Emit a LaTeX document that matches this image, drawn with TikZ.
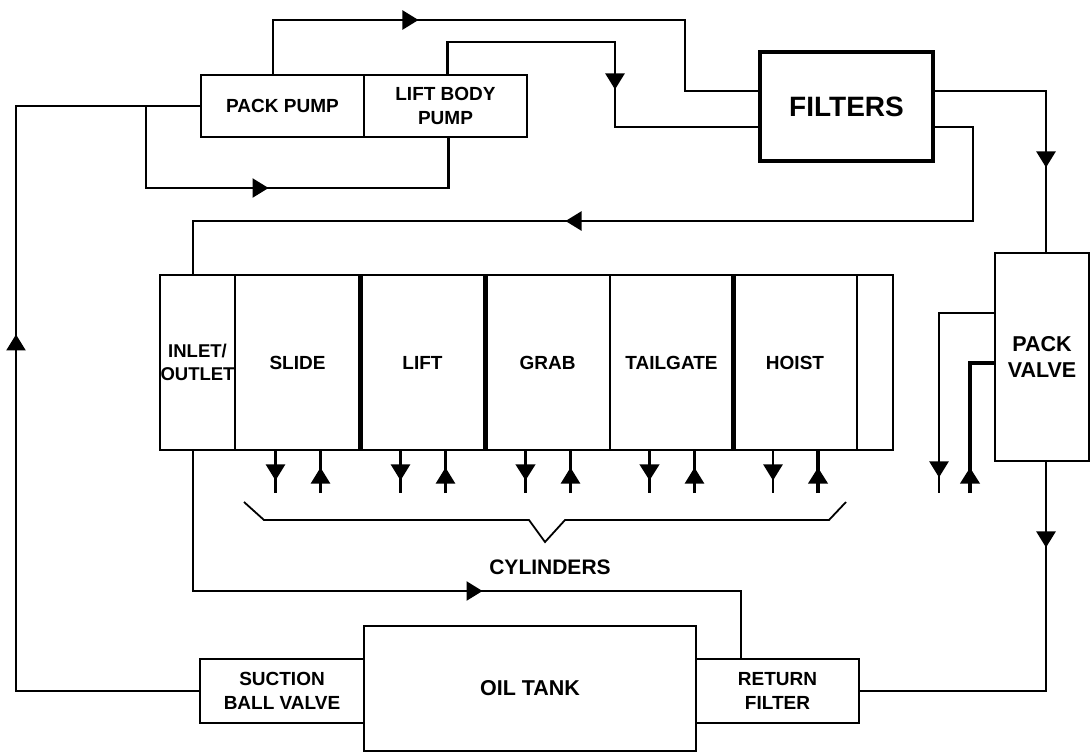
\documentclass[tikz,border=0pt]{standalone}
\usepackage{fontspec}
\setmainfont{Liberation Sans}
\usetikzlibrary{arrows.meta, positioning, decorations.markings}

\begin{document}
\begin{tikzpicture}[
    x=1pt, y=-1pt,
    node distance=0pt,
    box/.style={rectangle, draw, line width=2.6pt, inner sep=0pt, outer sep=0pt, align=center, font=\fontsize{19}{24}\selectfont\bfseries},
    pipe/.style={line width=2.4pt},
    arrowat/.style={postaction={decorate}, decoration={markings, mark=at position #1 with {\arrow{Triangle[length=16pt, width=19pt]}}}}
]
\useasboundingbox (0,0) rectangle (1091,753);

% 泵
\node[box, minimum width=163pt, minimum height=62pt] (pp) at (282.5,106) {PACK PUMP};
\node[box, minimum width=163pt, minimum height=62pt, right=of pp] (lbp) {LIFT BODY\\PUMP};

% 滤清器
\node[box, line width=4.5pt, minimum width=173pt, minimum height=109pt, font=\fontsize{28}{30}\selectfont\bfseries] (filt) at (846.5,106.5) {FILTERS};

% 阀组
\node[box, minimum width=75pt, minimum height=175pt, font=\fontsize{18.5}{23}\selectfont\bfseries] (inl) at (197.5,362.5) {INLET/\\OUTLET};
\node[box, minimum width=125pt, minimum height=175pt, right=of inl] (sl) {SLIDE};
\node[box, minimum width=125pt, minimum height=175pt, right=of sl] (li) {LIFT};
\node[box, minimum width=125pt, minimum height=175pt, right=of li] (gr) {GRAB};
\node[box, minimum width=123pt, minimum height=175pt, right=of gr] (ta) {TAILGATE};
\node[box, minimum width=124pt, minimum height=175pt, right=of ta] (ho) {HOIST};
\node[box, minimum width=36pt, minimum height=175pt, right=of ho] (sp) {};
\draw[line width=5pt] (sl.north east) -- (sl.south east);
\draw[line width=5pt] (li.north east) -- (li.south east);
\draw[line width=5pt] (ta.north east) -- (ta.south east);

% 压缩阀
\node[box, minimum width=94pt, minimum height=208pt, font=\fontsize{21.5}{26}\selectfont\bfseries] (pv) at (1042,357) {PACK\\VALVE};

% 油箱
\node[box, minimum width=332pt, minimum height=125pt, font=\fontsize{21.5}{24}\selectfont\bfseries] (tank) at (530,688.5) {OIL TANK};
\node[box, minimum width=164pt, minimum height=64pt, left=of tank, yshift=-2.5pt] (suc) {SUCTION\\BALL VALVE};
\node[box, minimum width=163pt, minimum height=64pt, right=of tank, yshift=-2.5pt] (ret) {RETURN\\FILTER};

% 油缸
\node[font=\fontsize{21}{24}\selectfont\bfseries] (cyl) at (550,567) {CYLINDERS};
\draw[line width=1.8pt] (244,502) -- (264,520) -- (529,520) -- (545,542) -- (565,520) -- (829,520) -- (846,502);

% 管路拐点
\coordinate (c1) at (685,20);
\coordinate (c2) at (615,42);
\coordinate (c3) at (16,106);
\coordinate (c4) at (146,106);
\coordinate (c5) at (448.5,188);
\coordinate (c6) at (973,221);
\coordinate (c7) at (741,591);
\coordinate (c8) at (939,493);
\coordinate (c9) at (970,493);

% 箭头
\draw[pipe, arrowat=0.327] ([xshift=-9.5pt]pp.north) |- (c1) |- ([yshift=15.5pt]filt.west);
\draw[pipe, arrowat=0.576] ([xshift=2pt]lbp.north) |- (c2) |- ([yshift=-20.5pt]filt.west);
\draw[pipe, arrowat=0.5666] (suc.west) -| (c3) -- (pp.west);
\draw[pipe, arrowat=0.4696] (c4) |- (c5) -- ([xshift=3pt]lbp.south);
\draw[pipe, arrowat=0.689] ([yshift=15.5pt]filt.east) -| ([xshift=4pt]pv.north);
\draw[pipe, arrowat=0.5594] ([yshift=-20.5pt]filt.east) -| (c6) -| ([xshift=-4.5pt]inl.north);
\draw[pipe, arrowat=0.5687] ([xshift=-4.5pt]inl.south) |- (c7) -- ([xshift=-36.5pt]ret.north);
\draw[pipe, arrowat=0.2074] ([xshift=4pt]pv.south) |- (ret.east);
\draw[pipe, arrowat=0.934] ([yshift=44pt]pv.west) -| (c8);
\draw[pipe, line width=3.6pt, arrowat=0.1645] (c9) |- ([yshift=-6pt]pv.west);

% 油缸接口
\foreach \s/\wa/\wb in {sl/2.4/2.4, li/2.4/2.4, gr/3.6/2.4, ta/3.6/2.4, ho/2.4/3.6} {
  \draw[pipe, line width=\wa pt, arrowat=0.709] ([xshift=-22pt]\s.south) -- ++(0,43);
  \draw[pipe, line width=\wb pt, arrowat=0.593] ([xshift=23pt]\s.south) ++(0,43) -- ++(0,-43);
}

\end{tikzpicture}
\end{document}
